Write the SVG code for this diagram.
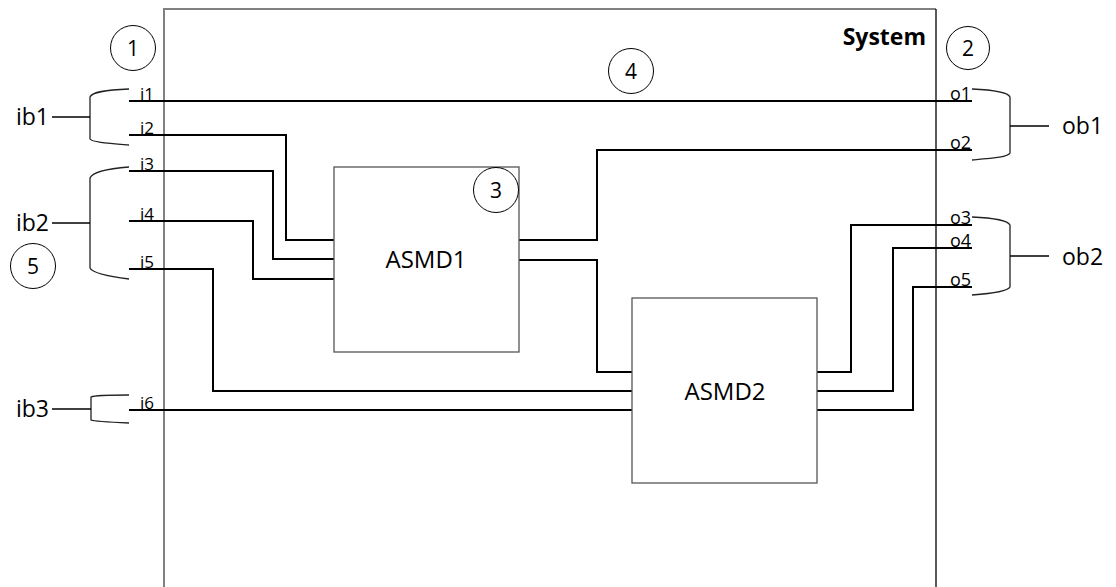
<svg xmlns="http://www.w3.org/2000/svg" width="1116" height="587" viewBox="0 0 1116 587">
<style>
text{font-family:"Open Sans","Liberation Sans",sans-serif;fill:#000}
.lbl{font-size:17px}
.olbl{font-size:18px}
.bus{font-size:23px}
.num{font-size:21px;text-anchor:middle}
.blk{font-size:24px;text-anchor:middle}
.wire{fill:none;stroke:#000;stroke-width:2}
.brk{fill:none;stroke:#222;stroke-width:1.3}
.stub{fill:none;stroke:#000;stroke-width:1.5}
.circ{fill:none;stroke:#000;stroke-width:1}
.box{fill:#fff;stroke:#555;stroke-width:1.3}
</style>
<rect width="1116" height="587" fill="#fff"/>
<g id="system">
<path d="M164,587 V9 H936" fill="none" stroke="#808080" stroke-width="2"/>
<path d="M936,9 V587" fill="none" stroke="#000" stroke-width="1.3"/>
<text x="926" y="45" font-size="23" font-weight="bold" text-anchor="end">System</text>
</g>
<g id="connectors">
<path class="wire" d="M129,101 H972"/>
<path class="wire" d="M129,135 H286 V240 H334"/>
<path class="wire" d="M129,171 H273 V259 H334"/>
<path class="wire" d="M129,221 H253 V279 H334"/>
<path class="wire" d="M129,269 H213 V391 H632"/>
<path class="wire" d="M129,410 H632"/>
<path class="wire" d="M519,240 H597 V150 H972"/>
<path class="wire" d="M519,260 H597 V372 H632"/>
<path class="wire" d="M817,372 H851 V225 H972"/>
<path class="wire" d="M817,391 H893 V248 H972"/>
<path class="wire" d="M817,410 H913 V287 H972"/>
</g>
<g id="asmd1">
<rect class="box" x="334" y="167" width="185" height="185"/>
<text class="blk" x="426" y="268">ASMD1</text>
</g>
<g id="asmd2">
<rect class="box" x="632" y="298" width="185" height="185"/>
<text class="blk" x="725" y="400">ASMD2</text>
</g>
<g id="input-labels">
<text class="lbl" x="140" y="100">i1</text>
<text class="lbl" x="140" y="134">i2</text>
<text class="lbl" x="140" y="170">i3</text>
<text class="lbl" x="140" y="220">i4</text>
<text class="lbl" x="140" y="268">i5</text>
<text class="lbl" x="140" y="409">i6</text>
</g>
<g id="output-labels">
<text class="olbl" x="950" y="100">o1</text>
<text class="olbl" x="950" y="149">o2</text>
<text class="olbl" x="950" y="224">o3</text>
<text class="olbl" x="950" y="247">o4</text>
<text class="olbl" x="950" y="286">o5</text>
</g>
<g id="ib1">
<path class="brk" d="M129,89 C105,90 92,92 90,97 V139 C92,142 105,143 129,145"/>
<path class="stub" d="M52,117 H90"/>
<text class="bus" x="49" y="125" text-anchor="end">ib1</text>
</g>
<g id="ib2">
<path class="brk" d="M129,167 C105,169 92,173 90,178 V268 C92,272 105,276 129,279"/>
<path class="stub" d="M52,223 H90"/>
<text class="bus" x="49" y="231" text-anchor="end">ib2</text>
</g>
<g id="ib3">
<path class="brk" d="M129,395 C105,395 93,396 91,397 V420 C93,421 105,422 129,423"/>
<path class="stub" d="M52,409 H91"/>
<text class="bus" x="49" y="417" text-anchor="end">ib3</text>
</g>
<g id="ob1">
<path class="brk" d="M972,89 C995,90 1008,92 1010,97 V153 C1008,157 995,158 972,160"/>
<path class="stub" d="M1010,126 H1049"/>
<text class="bus" x="1062" y="134" font-size="24">ob1</text>
</g>
<g id="ob2">
<path class="brk" d="M972,217 C995,218 1008,221 1010,225 V287 C1008,291 995,293 972,295"/>
<path class="stub" d="M1010,256 H1049"/>
<text class="bus" x="1062" y="265" font-size="24">ob2</text>
</g>
<g id="c1"><circle class="circ" cx="133" cy="48" r="22.5"/><text class="num" x="133" y="56">1</text></g>
<g id="c2"><circle class="circ" cx="968" cy="48" r="21.5"/><text class="num" x="968" y="56">2</text></g>
<g id="c3"><circle class="circ" cx="496" cy="190" r="22.5"/><text class="num" x="496" y="198">3</text></g>
<g id="c4"><circle class="circ" cx="631" cy="71" r="22.5"/><text class="num" x="631" y="79">4</text></g>
<g id="c5"><circle class="circ" cx="33" cy="266" r="22.5"/><text class="num" x="33" y="274">5</text></g>
</svg>
